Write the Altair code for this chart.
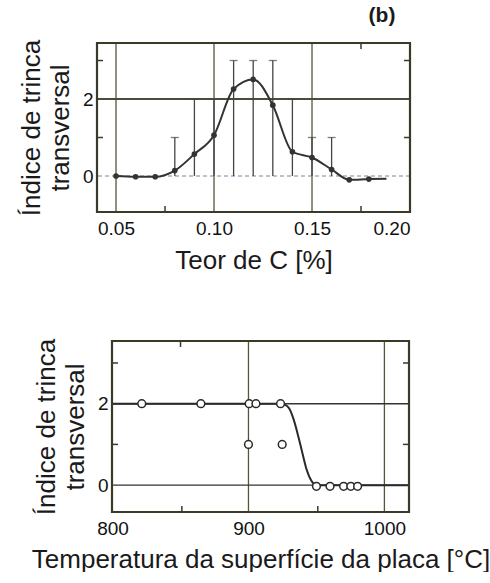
import altair as alt
import pandas as pd

# ---------------- top panel data ----------------
c_content = [0.05, 0.06, 0.07, 0.08, 0.09, 0.10, 0.11, 0.12, 0.13, 0.14, 0.15, 0.16, 0.169, 0.179]
crack_index = [0.0, -0.02, -0.02, 0.14, 0.57, 1.06, 2.26, 2.51, 1.84, 0.63, 0.48, 0.17, -0.10, -0.08]
line_end_c = [0.188]
line_end_idx = [-0.07]
err_c = [0.08, 0.09, 0.10, 0.11, 0.12, 0.13, 0.14, 0.15, 0.16]
err_low = [0, 0, 0, 0, 0, 0, 0, 0, 0]
err_high = [1, 2, 2, 3, 3, 3, 2, 1, 1]

top_x_ticks = [0.05, 0.10, 0.15, 0.20]
top_y_ticks = [0, 2]
top_vgrid = [0.05, 0.10, 0.15]
top_hgrid_solid = [2]
top_hgrid_dash = [0]
top_minor_y = [1, 3]
top_minor_x_bottom = [0.075, 0.175]
top_minor_x_top = [0.175]
top_x_domain = [0.0403, 0.20]
top_y_domain = [-0.935, 3.455]
panel_tag = ["(b)"]

# ---------------- bottom panel data ----------------
temp = [821.5, 865, 900.5, 905.5, 923.6, 900, 924.8, 950, 960, 970, 975.3, 980.3]
crack_index2 = [2, 2, 2, 2, 2, 1, 1, -0.03, -0.03, -0.03, -0.03, -0.03]
curve_t = [799.6, 922, 927, 930, 934, 937, 939, 942.7, 946.4, 950, 1018.1]
curve_i = [2, 2, 1.97, 1.88, 1.53, 1.15, 0.88, 0.39, 0.1, 0, 0]

bot_x_ticks = [800, 900, 1000]
bot_y_ticks = [0, 2]
bot_vgrid = [900, 1000]
bot_hgrid = [0, 2]
bot_minor_y = [1, 3]
bot_minor_x_bottom = [851, 951]
bot_minor_x_top = [850]
bot_x_domain = [799.6, 1018.1]
bot_y_domain = [-0.66, 3.54]

FONT = "Liberation Sans"
TXT = "#1a1a1a"
LBL = "#111111"
FRAME = "#3a3a28"
GRID = "#55553a"
Y_TITLE = ["Índice de trinca", "transversal"]
TFS = 26
LFS = 19

# ================= TOP =================
xs_t = alt.Scale(domain=top_x_domain, nice=False, zero=False)
ys_t = alt.Scale(domain=top_y_domain, nice=False, zero=False)
ax_x_t = alt.Axis(values=top_x_ticks, format=".2f", title="Teor de C [%]", ticks=False,
                  domain=False, grid=False, labelFontSize=LFS, labelPadding=7,
                  titleFontSize=TFS, titlePadding=9, titleFontWeight="normal",
                  labelColor=LBL, titleColor=TXT, labelFont=FONT, titleFont=FONT)
ax_y_t = alt.Axis(values=top_y_ticks, format="d", title=Y_TITLE, ticks=False,
                  domain=False, grid=False, labelFontSize=LFS, labelPadding=4,
                  titleFontSize=TFS, titleLineHeight=29, titlePadding=9,
                  titleFontWeight="normal", labelColor=LBL, titleColor=TXT,
                  labelFont=FONT, titleFont=FONT)


def X1(field=None, datum=None):
    if datum is not None:
        return alt.X(datum=datum, type="quantitative", scale=xs_t, axis=ax_x_t)
    return alt.X(field, type="quantitative", scale=xs_t, axis=ax_x_t)


def Y1(field=None, datum=None):
    if datum is not None:
        return alt.Y(datum=datum, type="quantitative", scale=ys_t, axis=ax_y_t)
    return alt.Y(field, type="quantitative", scale=ys_t, axis=ax_y_t)


df_pts = pd.DataFrame({"x": c_content, "y": crack_index})
df_line = pd.DataFrame({"x": c_content + line_end_c, "y": crack_index + line_end_idx})
df_err = pd.DataFrame({"x": err_c, "y": err_low, "y2": err_high})
df_vg = pd.DataFrame({"x": top_vgrid})
df_hs = pd.DataFrame({"y": top_hgrid_solid})
df_hd = pd.DataFrame({"y": top_hgrid_dash})
df_my = pd.DataFrame({"y": top_minor_y})
df_mxb = pd.DataFrame({"x": top_minor_x_bottom})
df_mxt = pd.DataFrame({"x": top_minor_x_top})
df_tag = pd.DataFrame({"t": panel_tag})

t_vgrid = alt.Chart(df_vg).mark_rule(color=GRID, strokeWidth=1.3).encode(x=X1("x"))
t_hsolid = alt.Chart(df_hs).mark_rule(color="#4a4a40", strokeWidth=2).encode(y=Y1("y"))
t_hdash = alt.Chart(df_hd).mark_rule(color="#8080a8", strokeWidth=1, strokeDash=[4, 3]).encode(y=Y1("y"))
t_err = alt.Chart(df_err).mark_rule(color="#444444", strokeWidth=1.3).encode(x=X1("x"), y=Y1("y"), y2="y2")
t_cap = alt.Chart(df_err).mark_tick(color="#444444", thickness=1.3, size=8, orient="horizontal").encode(
    x=X1("x"), y=Y1("y2"))
t_line = alt.Chart(df_line).mark_line(color="#333333", strokeWidth=2, interpolate="monotone").encode(
    x=X1("x"), y=Y1("y"))
t_pts = alt.Chart(df_pts).mark_circle(color="#333333", size=32, opacity=1).encode(x=X1("x"), y=Y1("y"))
t_myl = alt.Chart(df_my).mark_rule(color=FRAME, strokeWidth=1.5).encode(
    y=Y1("y"), x=alt.value(0), x2=alt.value(6))
t_myr = alt.Chart(df_my).mark_rule(color=FRAME, strokeWidth=1.5).encode(
    y=Y1("y"), x=alt.value(307), x2=alt.value(313))
t_mxb = alt.Chart(df_mxb).mark_rule(color=FRAME, strokeWidth=1.5).encode(
    x=X1("x"), y=alt.value(163), y2=alt.value(169))
t_mxt = alt.Chart(df_mxt).mark_rule(color=FRAME, strokeWidth=1.5).encode(
    x=X1("x"), y=alt.value(0), y2=alt.value(6))
t_frame = alt.Chart(df_tag).mark_rect(filled=False, stroke=FRAME, strokeWidth=2.2).encode(
    x=X1(datum=top_x_domain[0]), x2=alt.datum(top_x_domain[1]),
    y=Y1(datum=top_y_domain[0]), y2=alt.datum(top_y_domain[1]))
t_tag = alt.Chart(df_tag).mark_text(font=FONT, fontSize=21, fontWeight="bold", color=TXT).encode(
    x=alt.value(285), y=alt.value(-27), text="t:N")

top = alt.layer(t_vgrid, t_hsolid, t_hdash, t_err, t_cap, t_line, t_pts,
                t_myl, t_myr, t_mxb, t_mxt, t_frame, t_tag).properties(width=313, height=169)

# ================= BOTTOM =================
xs_b = alt.Scale(domain=bot_x_domain, nice=False, zero=False)
ys_b = alt.Scale(domain=bot_y_domain, nice=False, zero=False)
ax_x_b = alt.Axis(values=bot_x_ticks, format="d", title="Temperatura da superfície da placa [°C]",
                  ticks=False, domain=False, grid=False, labelFontSize=LFS, labelPadding=7,
                  labelFlush=False, titleFontSize=TFS, titlePadding=8, titleFontWeight="normal",
                  labelColor=LBL, titleColor=TXT, labelFont=FONT, titleFont=FONT)
ax_y_b = alt.Axis(values=bot_y_ticks, format="d", title=Y_TITLE, ticks=False,
                  domain=False, grid=False, labelFontSize=LFS, labelPadding=4,
                  titleFontSize=TFS, titleLineHeight=29, titlePadding=9,
                  titleFontWeight="normal", labelColor=LBL, titleColor=TXT,
                  labelFont=FONT, titleFont=FONT)


def X2(field=None, datum=None):
    if datum is not None:
        return alt.X(datum=datum, type="quantitative", scale=xs_b, axis=ax_x_b)
    return alt.X(field, type="quantitative", scale=xs_b, axis=ax_x_b)


def Y2(field=None, datum=None):
    if datum is not None:
        return alt.Y(datum=datum, type="quantitative", scale=ys_b, axis=ax_y_b)
    return alt.Y(field, type="quantitative", scale=ys_b, axis=ax_y_b)


df_p2 = pd.DataFrame({"x": temp, "y": crack_index2})
df_c2 = pd.DataFrame({"x": curve_t, "y": curve_i})
df_vg2 = pd.DataFrame({"x": bot_vgrid})
df_hg2 = pd.DataFrame({"y": bot_hgrid})
df_my2 = pd.DataFrame({"y": bot_minor_y})
df_mxb2 = pd.DataFrame({"x": bot_minor_x_bottom})
df_mxt2 = pd.DataFrame({"x": bot_minor_x_top})

b_vgrid = alt.Chart(df_vg2).mark_rule(color=GRID, strokeWidth=1.3).encode(x=X2("x"))
b_hgrid = alt.Chart(df_hg2).mark_rule(color="#333333", strokeWidth=1.4).encode(y=Y2("y"))
b_line = alt.Chart(df_c2).mark_line(color="#2a2a2a", strokeWidth=2, interpolate="monotone").encode(
    x=X2("x"), y=Y2("y"))
b_pts = alt.Chart(df_p2).mark_point(shape="circle", size=60, filled=True, fill="white",
                                    stroke="#2a2a2a", strokeWidth=1.5, opacity=1).encode(
    x=X2("x"), y=Y2("y"))
b_myl = alt.Chart(df_my2).mark_rule(color=FRAME, strokeWidth=1.5).encode(
    y=Y2("y"), x=alt.value(0), x2=alt.value(6))
b_myr = alt.Chart(df_my2).mark_rule(color=FRAME, strokeWidth=1.5).encode(
    y=Y2("y"), x=alt.value(291), x2=alt.value(297))
b_mxb = alt.Chart(df_mxb2).mark_rule(color=FRAME, strokeWidth=1.5).encode(
    x=X2("x"), y=alt.value(165), y2=alt.value(171))
b_mxt = alt.Chart(df_mxt2).mark_rule(color=FRAME, strokeWidth=1.5).encode(
    x=X2("x"), y=alt.value(0), y2=alt.value(6))
b_frame = alt.Chart(df_tag).mark_rect(filled=False, stroke=FRAME, strokeWidth=2.2).encode(
    x=X2(datum=bot_x_domain[0]), x2=alt.datum(bot_x_domain[1]),
    y=Y2(datum=bot_y_domain[0]), y2=alt.datum(bot_y_domain[1]))

bottom = alt.layer(b_vgrid, b_hgrid, b_line, b_pts, b_myl, b_myr, b_mxb, b_mxt,
                   b_frame).properties(width=297, height=171)


# invisible spacers that set the horizontal offset of each panel
def spacer(w):
    return alt.Chart(df_tag).mark_point(opacity=0, fillOpacity=0, strokeOpacity=0,
                                        strokeWidth=0, size=1).encode(
        x=alt.value(0.5), y=alt.value(0.5)).properties(width=w, height=1)


row_top = alt.hconcat(spacer(1), top, spacing=0)
row_bot = alt.hconcat(spacer(13.5), bottom, spacing=0)

chart = alt.vconcat(row_top, row_bot, spacing=65).properties(
    padding={"left": 17, "top": 5, "right": 0, "bottom": 0}
).configure(font=FONT, background="white").configure_view(strokeWidth=0, stroke="transparent")

chart.save("out.html", embed_options={"renderer": "svg", "actions": False})
